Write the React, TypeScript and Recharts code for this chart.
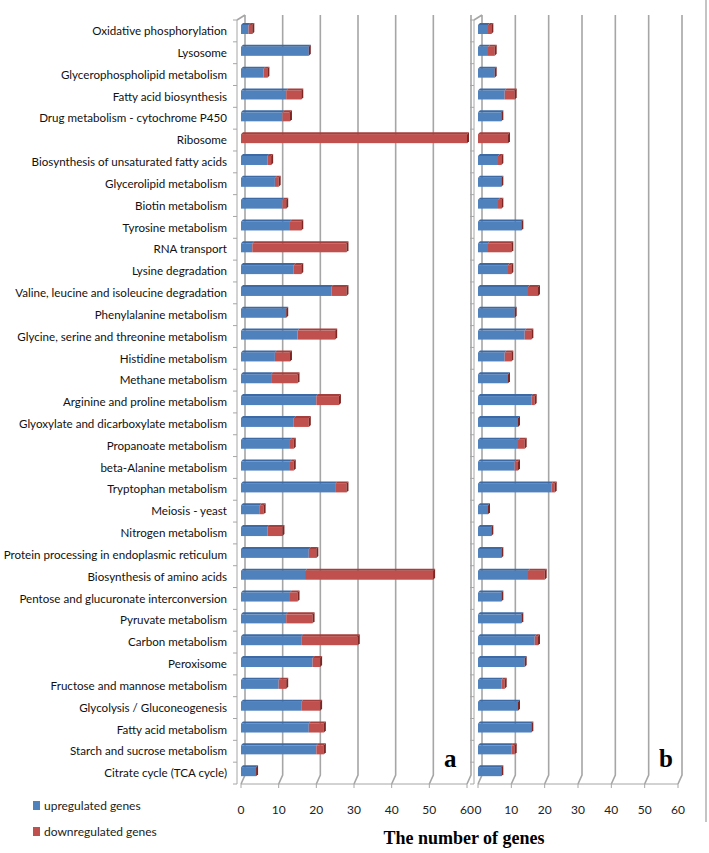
import React from 'react';
import { BarChart, Bar, XAxis, YAxis, CartesianGrid, Legend } from 'recharts';

const categories = [
  'Oxidative phosphorylation',
  'Lysosome',
  'Glycerophospholipid metabolism',
  'Fatty acid  biosynthesis',
  'Drug metabolism  - cytochrome P450',
  'Ribosome',
  'Biosynthesis of unsaturated fatty acids',
  'Glycerolipid metabolism',
  'Biotin metabolism',
  'Tyrosine metabolism',
  'RNA transport',
  'Lysine degradation',
  'Valine, leucine and isoleucine degradation',
  'Phenylalanine metabolism',
  'Glycine, serine and threonine metabolism',
  'Histidine metabolism',
  'Methane metabolism',
  'Arginine and proline metabolism',
  'Glyoxylate and dicarboxylate metabolism',
  'Propanoate metabolism',
  'beta-Alanine metabolism',
  'Tryptophan metabolism',
  'Meiosis - yeast',
  'Nitrogen metabolism',
  'Protein processing in endoplasmic reticulum',
  'Biosynthesis of amino acids',
  'Pentose and glucuronate interconversion',
  'Pyruvate metabolism',
  'Carbon metabolism',
  'Peroxisome',
  'Fructose and mannose metabolism',
  'Glycolysis / Gluconeogenesis',
  'Fatty acid metabolism',
  'Starch and sucrose metabolism',
  'Citrate cycle (TCA cycle)',
];

// panel a
const upA = [2, 18, 6, 12, 11, 0, 7, 9, 11, 13, 3, 14, 24, 12, 15, 9, 8, 20, 14, 13, 13, 25, 5, 7, 18, 17, 13, 12, 16, 19, 10, 16, 18, 20, 4];
const downA = [1, 0, 1, 4, 2, 60, 1, 1, 1, 3, 25, 2, 4, 0, 10, 4, 7, 6, 4, 1, 1, 3, 1, 4, 2, 34, 2, 7, 15, 2, 2, 5, 4, 2, 0];

// panel b
const upB = [3, 3, 5, 8, 7, 0, 6, 7, 6, 13, 3, 9, 15, 11, 14, 8, 9, 16, 12, 12, 11, 22, 3, 4, 7, 15, 7, 13, 17, 14, 7, 12, 16, 10, 7];
const downB = [1, 2, 0, 3, 0, 9, 1, 0, 1, 0, 7, 1, 3, 0, 2, 2, 0, 1, 0, 2, 1, 1, 0, 0, 0, 5, 0, 0, 1, 0, 1, 0, 0, 1, 0];

const xTicks = [0, 10, 20, 30, 40, 50, 60];

const dataA = categories.map((name, i) => ({ name, up: upA[i], down: downA[i] }));
const dataB = categories.map((name, i) => ({ name, up: upB[i], down: downB[i] }));

const BLUE = '#4f81bd';
const RED = '#c0504d';
const GRID = '#a6a6a6';
const FONT = 'Lato, "Open Sans", sans-serif';
const D = 2;

function Box3D(props: any) {
  const { x, y, width, height, fill, topFill, sideFill, end } = props;
  const w = Math.max(width || 0, 0);
  const yy = y - 1;
  return (
    <g>
      {w > 0 && <rect x={x} y={yy} width={w} height={height} fill={fill} />}
      {w > 0 && (
        <polygon
          points={`${x},${yy} ${x + D},${yy - D} ${x + w + D},${yy - D} ${x + w},${yy}`}
          fill={topFill}
        />
      )}
      {end && (
        <polygon
          points={`${x + w},${yy} ${x + w + D},${yy - D} ${x + w + D},${yy + height - D} ${x + w},${yy + height}`}
          fill={sideFill}
        />
      )}
    </g>
  );
}

const upShape = (p: any) => <Box3D {...p} topFill="#3d6aa5" sideFill="#2e5585" />;
const downShape = (p: any) => <Box3D {...p} topFill="#a33f3c" sideFill="#7e2624" end />;

const gridV = (p: any) => {
  const { x1, y1, y2, index } = p;
  let d = `M${x1 + 4},${y1 - 5} L${x1 + 4},${y2 - 9} L${x1},${y2}`;
  if (index === 0) d += ` M${x1 - 4},${y1} L${x1 + 4},${y1 - 5}`;
  return <path key={`v-${index}`} d={d} stroke={GRID} strokeWidth={1.6} fill="none" />;
};

const gridH = (p: any) => {
  const { x1, y1, index } = p;
  return <line key={`h-${index}`} x1={x1 - 8} x2={x1 - 4} y1={y1} y2={y1} stroke={GRID} strokeWidth={1} />;
};

const vCoords = ({ offset }: any) => xTicks.map((t) => offset.left + (t / 60) * offset.width);
const hCoords = ({ offset }: any) =>
  categories.map((_, i) => offset.top + (i * offset.height) / categories.length).concat(offset.top + offset.height);

const CatTick = (p: any) => (
  <text x={p.x} y={p.y} dy="0.36em" textAnchor="end" fontFamily={FONT} fontSize={11.6} fill="#111">
    {p.payload.value}
  </text>
);

function LegendBox() {
  const items = [
    { label: 'upregulated genes', color: BLUE },
    { label: 'downregulated genes', color: RED },
  ];
  return (
    <div style={{ fontFamily: FONT, fontSize: 12, color: '#222' }}>
      {items.map((it) => (
        <div key={it.label} style={{ display: 'flex', alignItems: 'center', height: 26 }}>
          <span style={{ display: 'inline-block', width: 7, height: 9, background: it.color, marginRight: 4 }} />
          <span>{it.label}</span>
        </div>
      ))}
    </div>
  );
}

function Panel({ data, width, yWidth, showLabels, legend }: any) {
  return (
    <BarChart
      layout="vertical"
      data={data}
      width={width}
      height={853}
      margin={{ top: 20, right: 13, left: 0, bottom: 39 }}
      barSize={9}
    >
      <CartesianGrid
        vertical={gridV}
        horizontal={gridH}
        verticalCoordinatesGenerator={vCoords}
        horizontalCoordinatesGenerator={hCoords}
      />
      <XAxis
        type="number"
        domain={[0, 60]}
        ticks={xTicks}
        interval={0}
        axisLine={{ stroke: GRID }}
        tickLine={{ stroke: GRID }}
        tickSize={4}
        tickMargin={17}
        height={30}
        tick={{ fontFamily: FONT, fontSize: 12, fill: '#222' }}
      />
      <YAxis
        type="category"
        dataKey="name"
        width={yWidth}
        interval={0}
        tickLine={false}
        tickSize={0}
        tickMargin={14}
        axisLine={{ stroke: GRID, transform: 'translate(-4,0)' }}
        tick={showLabels ? CatTick : false}
      />
      {legend && (
        <Legend
          layout="horizontal"
          verticalAlign="middle"
          align="center"
          content={() => <LegendBox />}
          wrapperStyle={{ position: 'absolute', left: 33, top: 792, width: 200 }}
        />
      )}
      <Bar dataKey="up" stackId="s" fill={BLUE} shape={upShape} isAnimationActive={false} />
      <Bar dataKey="down" stackId="s" fill={RED} shape={downShape} isAnimationActive={false} />
    </BarChart>
  );
}

export default function App() {
  return (
    <div style={{ position: 'absolute', left: 0, top: 0, width: 709, height: 853, background: '#fff' }}>
      <div style={{ position: 'absolute', left: 0, top: 0 }}>
        <Panel data={dataA} width={480} yWidth={241} showLabels legend />
      </div>
      <div style={{ position: 'absolute', left: 470, top: 0 }}>
        <Panel data={dataB} width={221} yWidth={8} showLabels={false} />
      </div>
      <div style={{ position: 'absolute', left: 444, top: 745, fontFamily: '"Liberation Serif", serif', fontWeight: 'bold', fontSize: 25 }}>a</div>
      <div style={{ position: 'absolute', left: 659, top: 745, fontFamily: '"Liberation Serif", serif', fontWeight: 'bold', fontSize: 25 }}>b</div>
      <div
        style={{
          position: 'absolute',
          left: 364,
          top: 828,
          width: 200,
          textAlign: 'center',
          fontFamily: '"Liberation Serif", serif',
          fontWeight: 'bold',
          fontSize: 18,
        }}
      >
        The number of genes
      </div>
      <div style={{ position: 'absolute', left: 705, top: 0, width: 2, height: 822, background: '#c4c4c4' }} />
    </div>
  );
}
